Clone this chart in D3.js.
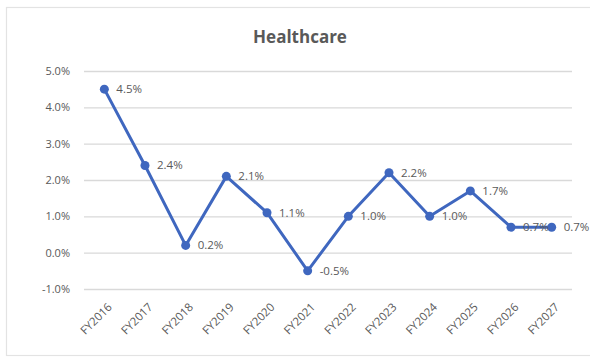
<!DOCTYPE html>
<html>
<head>
<meta charset="utf-8">
<script src="https://cdn.jsdelivr.net/npm/d3@7"></script>
<style>
  html, body { margin: 0; padding: 0; background: #fff; }
  svg text { font-family: "Open Sans", "Noto Sans", sans-serif; }
</style>
</head>
<body>
<svg id="chart" width="590" height="358"></svg>
<script>
// Annual growth, Healthcare segment
const years = ["FY2016","FY2017","FY2018","FY2019","FY2020","FY2021",
               "FY2022","FY2023","FY2024","FY2025","FY2026","FY2027"];
const growth = [4.5, 2.4, 0.2, 2.1, 1.1, -0.5, 1.0, 2.2, 1.0, 1.7, 0.7, 0.7];
const yTicks = [-1, 0, 1, 2, 3, 4, 5];

const svg = d3.select("#chart");
const plot = { left: 84, right: 572, top: 71, bottom: 289 };
const textColor = "#595959";
const lineColor = "#3F67BF";

// percent with a plain hyphen for negatives
const pct = d => d.toFixed(1) + "%";

// chart frame
svg.append("rect")
  .attr("x", 6.5).attr("y", 7.5)
  .attr("width", 600).attr("height", 348)
  .attr("fill", "#fff")
  .attr("stroke", "#e3e3e3").attr("stroke-width", 1.2);

svg.append("text")
  .attr("x", 300).attr("y", 43)
  .attr("text-anchor", "middle")
  .attr("font-size", 17).attr("font-weight", "bold")
  .attr("fill", textColor)
  .text("Healthcare");

const x = d3.scalePoint().domain(years)
  .range([plot.left, plot.right]).padding(0.5);
const y = d3.scaleLinear().domain([-1, 5])
  .range([plot.bottom, plot.top]);

// horizontal gridlines + left labels
const yAxis = d3.axisLeft(y).tickValues(yTicks)
  .tickSize(-(plot.right - plot.left))
  .tickPadding(14)
  .tickFormat(pct);
const gy = svg.append("g").attr("transform", `translate(${plot.left},0)`).call(yAxis);
gy.select(".domain").remove();
gy.selectAll(".tick line").attr("stroke", "#d9d9d9").attr("stroke-width", 1.3);
gy.selectAll(".tick text").attr("fill", textColor).attr("font-size", 11);

// category labels, rotated
const xAxis = d3.axisBottom(x).tickSize(0).tickPadding(0);
const gx = svg.append("g").attr("transform", `translate(0,${plot.bottom + 16})`).call(xAxis);
gx.select(".domain").remove();
gx.selectAll(".tick text")
  .attr("fill", textColor).attr("font-size", 11.5)
  .attr("text-anchor", "end")
  .attr("dy", "0.35em")
  .attr("transform", "translate(5,0) rotate(-45)");

// series line
const line = d3.line()
  .x((d, i) => x(years[i]))
  .y(d => y(d));
svg.append("path")
  .datum(growth)
  .attr("d", line)
  .attr("fill", "none")
  .attr("stroke", lineColor)
  .attr("stroke-width", 3)
  .attr("stroke-linejoin", "round");

svg.append("g").selectAll("circle")
  .data(growth).join("circle")
  .attr("cx", (d, i) => x(years[i]))
  .attr("cy", d => y(d))
  .attr("r", 4.5)
  .attr("fill", lineColor);

// value labels
svg.append("g").selectAll("text")
  .data(growth).join("text")
  .attr("x", (d, i) => x(years[i]) + 12)
  .attr("y", d => y(d))
  .attr("dy", "0.35em")
  .attr("font-size", 11.5)
  .attr("fill", textColor)
  .text(pct);
</script>
</body>
</html>
